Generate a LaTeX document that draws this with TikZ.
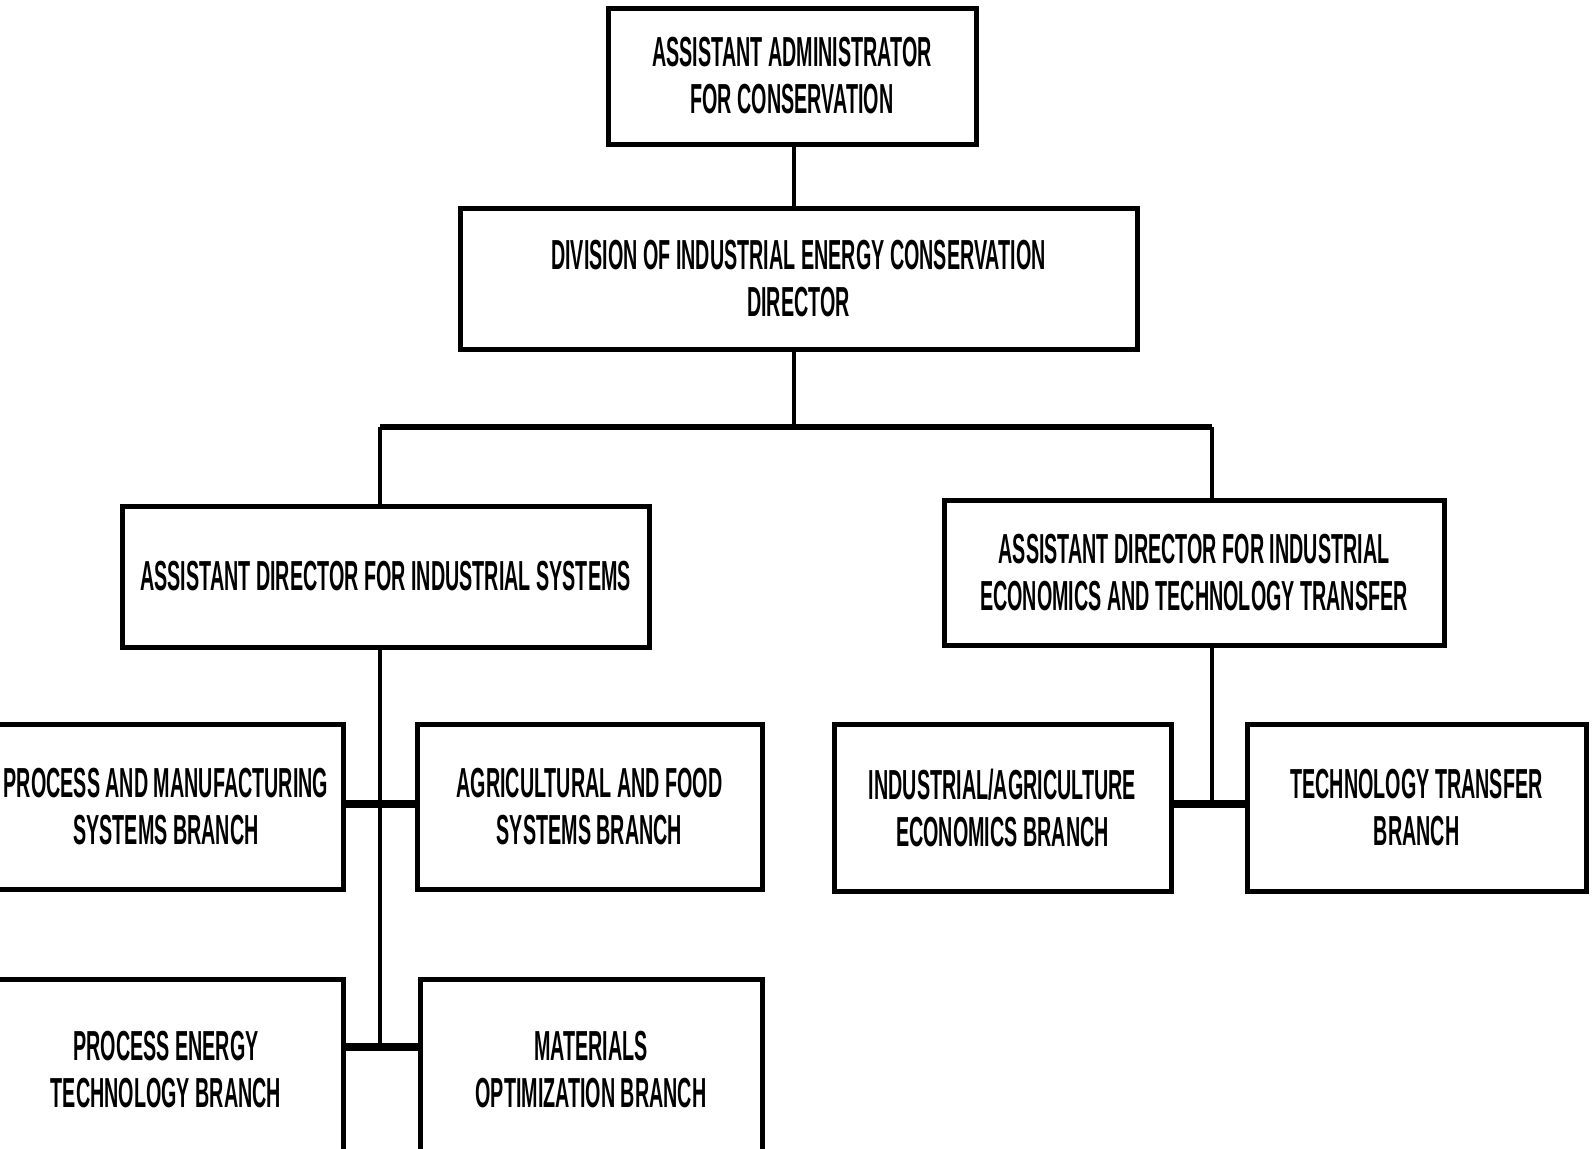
\documentclass[tikz,border=0pt]{standalone}
\usepackage{fontspec}
\newfontfamily\cond[FakeStretch=0.47]{Liberation Sans}
\begin{document}
\begin{tikzpicture}[x=0.5pt,y=-0.5pt,
  box/.style={draw=black,line width=2.5pt,rectangle,inner sep=0pt,align=center,
    font=\cond\bfseries\fontsize{21}{23.5}\selectfont},
  conn/.style={line width=2.2pt},
  branch/.style={line width=4pt}]
\useasboundingbox (0,0) rectangle (1594,1148);
\clip (0,0) rectangle (1594,1148);
\fill[white] (0,0) rectangle (1594,1148);
\node[box,minimum width=184pt,minimum height=68pt] (top) at (792,76) {ASSISTANT ADMINISTRATOR\\FOR CONSERVATION};
\node[box,minimum width=338.5pt,minimum height=70.5pt] (div) at (798.5,278.5) {DIVISION OF INDUSTRIAL ENERGY CONSERVATION\\DIRECTOR};
\node[box,minimum width=263.5pt,minimum height=70.5pt] (adl) at (385.5,576.5) {ASSISTANT DIRECTOR FOR INDUSTRIAL SYSTEMS};
\node[box,minimum width=250pt,minimum height=72.5pt] (adr) at (1194,572.5) {ASSISTANT DIRECTOR FOR INDUSTRIAL\\ECONOMICS AND TECHNOLOGY TRANSFER};
\node[box,minimum width=177.5pt,minimum height=82.5pt] (pms) at (166,806.5) {PROCESS AND MANUFACTURING\\SYSTEMS BRANCH};
\node[box,minimum width=172.5pt,minimum height=82.5pt] (afs) at (589.5,806.5) {AGRICULTURAL AND FOOD\\SYSTEMS BRANCH};
\node[box,minimum width=177.5pt,minimum height=90.5pt] (pet) at (166,1069.5) {PROCESS ENERGY\\TECHNOLOGY BRANCH};
\node[box,minimum width=171pt,minimum height=90.5pt] (mo) at (591,1069.5) {MATERIALS\\OPTIMIZATION BRANCH};
\node[box,minimum width=168.5pt,minimum height=83.5pt] (iae) at (1002.5,807.5) {INDUSTRIAL/AGRICULTURE\\ECONOMICS BRANCH};
\node[box,minimum width=169.5pt,minimum height=83.5pt] (tt) at (1416.5,807.5) {TECHNOLOGY TRANSFER\\BRANCH};
\coordinate (bar) at (794,427);
\coordinate (jl) at (380,427);
\coordinate (jr) at (1212,427);
\coordinate (jl1) at (380,804);
\coordinate (jl2) at (380,1047);
\coordinate (jr1) at (1212,804);
\draw[conn] (top.south -| bar) -- (div.north -| bar);
\draw[conn] (div.south -| bar) -- (bar);
\draw[line width=3pt] (jl) -- (jr);
\draw[conn] (jl) -- (jl |- adl.north);
\draw[conn] (jr) -- (jr |- adr.north);
\draw[conn] (jl |- adl.south) -- (jl2);
\draw[branch] (pms.east |- jl1) -- (afs.west |- jl1);
\draw[branch] (pet.east |- jl2) -- (mo.west |- jl2);
\draw[conn] (jr |- adr.south) -- (jr1);
\draw[branch] (iae.east |- jr1) -- (tt.west |- jr1);
\end{tikzpicture}
\end{document}
